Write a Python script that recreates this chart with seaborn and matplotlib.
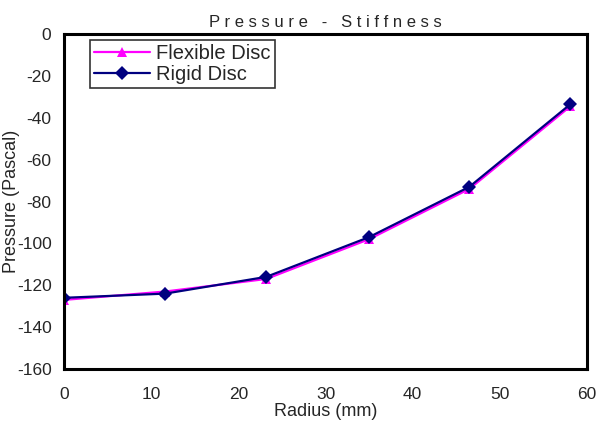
import matplotlib
matplotlib.use("Agg")
import matplotlib.pyplot as plt
import seaborn as sns
import pandas as pd

radius = [0, 11.6, 23.2, 35.0, 46.5, 58.1]
flexible = [-127, -123, -117, -98, -74, -34.5]
rigid = [-126, -124, -116, -97, -73, -33.5]
series_names = ["Flexible Disc", "Rigid Disc"]
xticks = [0, 10, 20, 30, 40, 50, 60]
yticks = [0, -20, -40, -60, -80, -100, -120, -140, -160]

df = pd.DataFrame({
    "Radius": radius * 2,
    "Pressure": flexible + rigid,
    "Series": [series_names[0]] * len(radius) + [series_names[1]] * len(radius),
})

sns.set_style("white")
plt.rcParams["font.family"] = ["Liberation Sans", "DejaVu Sans"]
plt.rcParams["axes.unicode_minus"] = False

fig = plt.figure(figsize=(5.99, 4.28), dpi=100)
ax = fig.add_axes([64 / 599, 1 - 369 / 428, (587 - 64) / 599, (369 - 34) / 428])

sns.lineplot(data=df, x="Radius", y="Pressure", hue="Series", style="Series",
             palette={series_names[0]: "#FF00FF", series_names[1]: "#000080"},
             markers={series_names[0]: "^", series_names[1]: "D"},
             dashes=False, markersize=7, linewidth=1.6, markeredgewidth=0,
             ax=ax)

ax.set_xlim(0, 60)
ax.set_ylim(-160, 0)
ax.set_xticks(xticks)
ax.set_yticks(yticks)
ax.tick_params(direction="in", length=4, width=1, labelsize=12.5, color="black")
ax.tick_params(axis="x", pad=13)
ax.tick_params(axis="y", pad=9)
for s in ax.spines.values():
    s.set_linewidth(2.2)
    s.set_color("black")

ax.set_xlabel("Radius (mm)", fontsize=13, labelpad=1)
ax.set_ylabel("Pressure (Pascal)", fontsize=13, labelpad=-2)
ax.set_title("P r e s s u r e   -   S t i f f n e s s", fontsize=12, pad=5)

leg = ax.legend(loc="upper left", bbox_to_anchor=(26 / 523, 1 - 6 / 335), fontsize=14.5,
                frameon=True, fancybox=False, edgecolor="black",
                borderpad=0.2, handlelength=2.8, handletextpad=0.3,
                labelspacing=0.1, borderaxespad=0)
leg.get_frame().set_linewidth(1.2)
leg.set_title(None)

fig.savefig("out.png", dpi=100)
